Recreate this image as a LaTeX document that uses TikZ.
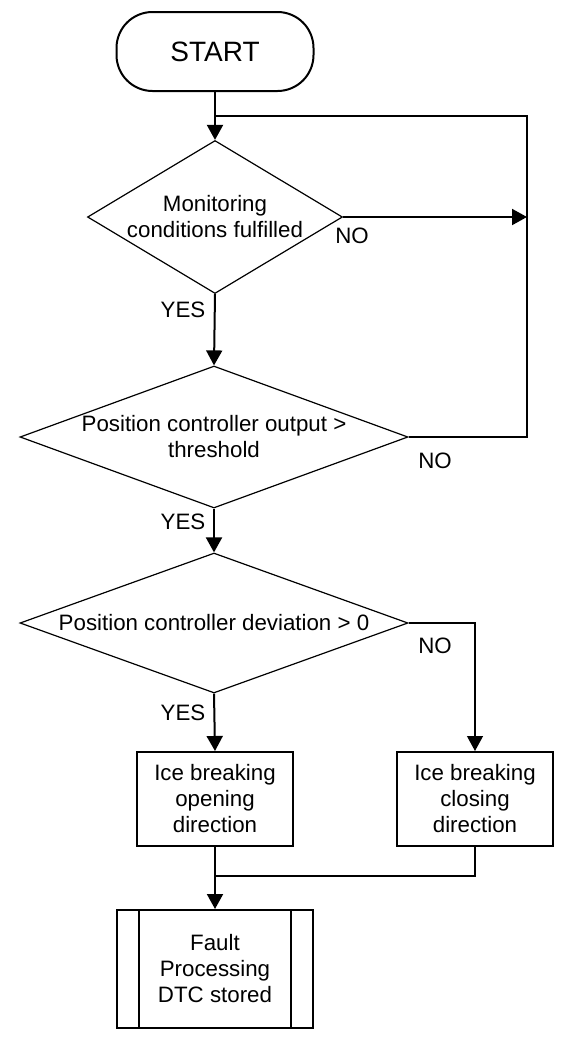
\documentclass[tikz,border=0pt]{standalone}
\usepackage{fontspec}
\setmainfont{Liberation Sans}
\usetikzlibrary{shapes.geometric}
\usetikzlibrary{arrows.meta}

\begin{document}
\begin{tikzpicture}[x=1pt,y=-1pt,
   every node/.style={font=\fontsize{22.3}{26}\selectfont,align=center},
   flow/.style={line width=2pt,-{Triangle[length=15pt,width=16pt]}},
   link/.style={line width=1.8pt},
   thinlink/.style={line width=1.2pt},
   decision/.style={draw,diamond,line width=1.2pt,inner sep=0pt,minimum width=#1},
   process/.style={draw,rectangle,line width=2pt,minimum width=156pt,minimum height=94pt}]
   \useasboundingbox (0,0) rectangle (576,1042);

   \node[draw,rounded corners=36pt,line width=2pt,minimum width=197pt,minimum height=79pt,
         font=\fontsize{28}{34}\selectfont] (start) at (215,51.5) {START};
   \node[decision=255pt,minimum height=153pt,label={center:Monitoring\\conditions fulfilled}] (d1) at (215,217) {};
   \node[decision=388pt,minimum height=142pt,label={center:Position controller output >\\threshold}] (d2) at (214,437) {};
   \node[decision=388pt,minimum height=140pt,label={center:Position controller deviation > 0}] (d3) at (214,623) {};
   \node[process] (open) at (215,799) {Ice breaking\\opening\\direction};
   \node[process] (close) at (475,799) {Ice breaking\\closing\\direction};
   \node[draw,line width=2pt,minimum width=196pt,minimum height=118pt] (fault) at (215,969) {Fault\\Processing\\DTC stored};
   \draw[line width=1.5pt] ([xshift=23pt]fault.north west) -- ([xshift=23pt]fault.south west);
   \draw[line width=1.5pt] ([xshift=-23pt]fault.north east) -- ([xshift=-23pt]fault.south east);

   \coordinate (loopr) at (527,116);
   \coordinate (loopl) at (215,116);
   \coordinate (merge) at (215,876);

   \draw[flow] (start.south) -- (d1.north);
   \draw[flow] (d1.east) -- (d1.east -| loopr);
   \draw[link] (d2.east) -| (loopr) -- (loopl);
   \draw[flow] (d1.south) -- (d2.north);
   \draw[flow] (d2.south) -- (d3.north);
   \draw[flow] (d3.south) -- (open.north);
   \draw[thinlink,-{Triangle[length=15pt,width=16pt]}] (d3.east) -| (close.north);
   \draw[flow] (open.south) -- (fault.north);
   \draw[thinlink] (close.south) |- (merge);

   \node (no1) at (352,236) {NO};
   \node (yes1) at (183,310) {YES};
   \node (no2) at (435,461) {NO};
   \node (yes2) at (183,522) {YES};
   \node (no3) at (435,646) {NO};
   \node (yes3) at (183,713) {YES};
\end{tikzpicture}
\end{document}
